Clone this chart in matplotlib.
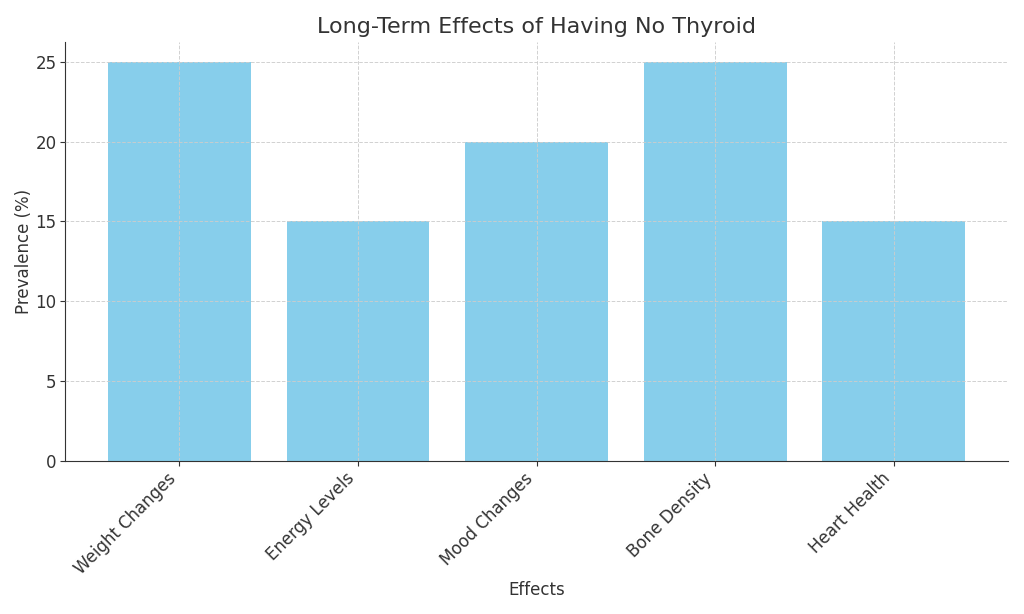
"""Bar chart: long-term effects of having no thyroid."""

import matplotlib

matplotlib.use("Agg")
import matplotlib.pyplot as plt

effects = ["Weight Changes", "Energy Levels", "Mood Changes", "Bone Density", "Heart Health"]
prevalence = [25, 15, 20, 25, 15]

text_color = "#333333"
plt.rcParams["font.family"] = ["DejaVu Sans"]

fig = plt.figure(figsize=(10.24, 6.14), dpi=100, facecolor="white")
ax = fig.add_axes([0.0635, 0.249, 0.921, 0.683])

ax.bar(effects, prevalence, color="skyblue", width=0.8)
ax.set_axisbelow(False)
ax.grid(True, linestyle="--", linewidth=0.7, color="#cccccc", alpha=0.9)

ax.set_title("Long-Term Effects of Having No Thyroid", fontsize=16, color=text_color)
ax.set_xlabel("Effects", fontsize=12, color=text_color, labelpad=2)
ax.set_ylabel("Prevalence (%)", fontsize=12, color=text_color, labelpad=2)
ax.tick_params(colors=text_color, labelsize=12, pad=2.5)
plt.setp(ax.get_xticklabels(), rotation=45, ha="right")

ax.spines["top"].set_visible(False)
ax.spines["right"].set_visible(False)
for side in ("left", "bottom"):
    ax.spines[side].set_color(text_color)

fig.savefig("out.png", dpi=100, facecolor="white")
plt.close(fig)
